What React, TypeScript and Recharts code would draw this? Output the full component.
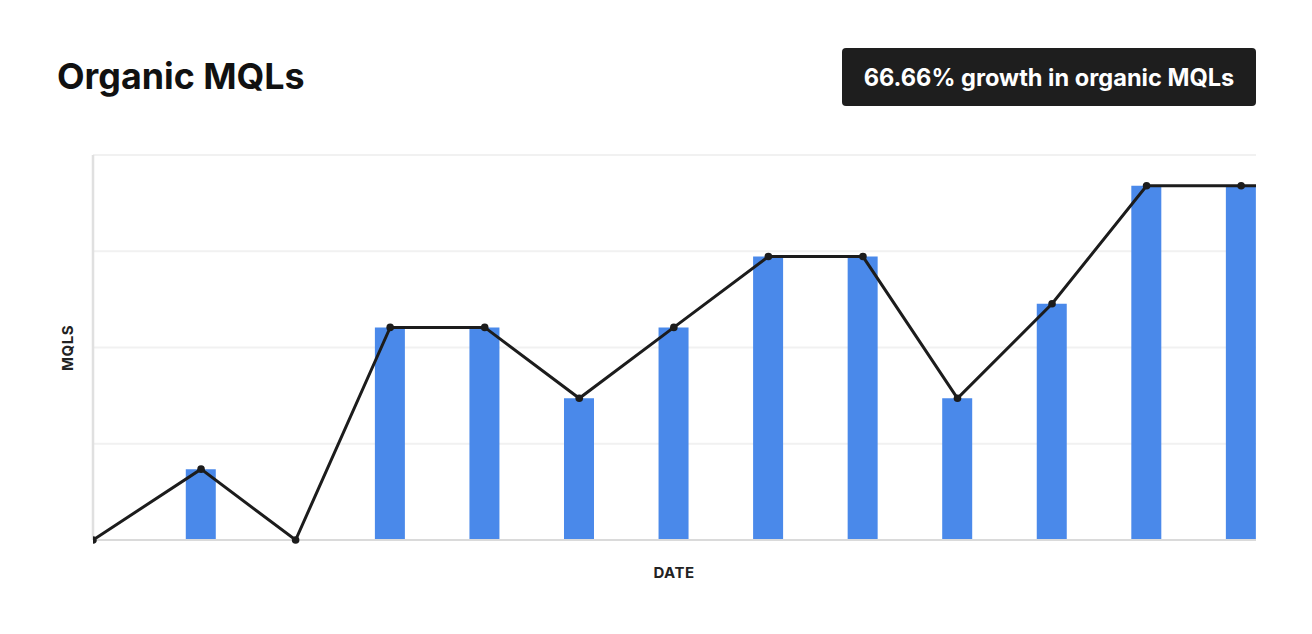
import {
  Bar,
  CartesianGrid,
  ComposedChart,
  Line,
  XAxis,
  YAxis,
} from "recharts";

// day offset of each data point (weekly buckets)
const days = [0, 8, 15, 22, 29, 36, 43, 50, 57, 64, 71, 78, 85, 92];
const mqls = [0, 3, 0, 9, 9, 6, 9, 12, 12, 6, 10, 15, 15, 15];
const yTicks = [0, 4.075, 8.15, 12.225, 16.3];

const data = days.map((day, i) => ({ day, mqls: mqls[i] }));

const FONT = "Inter, 'Noto Sans', sans-serif";

const NoTick = () => <g />;

export default function App() {
  return (
    <div
      style={{
        position: "relative",
        width: 1296,
        height: 618,
        fontFamily: FONT,
        background: "#fff",
      }}
    >
      <div
        style={{
          position: "absolute",
          left: 49,
          top: 51,
          fontSize: 35.8,
          lineHeight: 1,
          fontWeight: 700,
          color: "#111",
        }}
      >
        Organic MQLs
      </div>
      <div
        style={{
          position: "absolute",
          left: 834,
          top: 40,
          width: 414,
          height: 58,
          borderRadius: 4,
          background: "#1e1e1e",
          color: "#fff",
          fontSize: 23.6,
          fontWeight: 700,
          display: "flex",
          alignItems: "center",
          justifyContent: "center",
        }}
      >
        66.66% growth in organic MQLs
      </div>

      <div style={{ position: "absolute", left: 0, top: 0 }}>
        <ComposedChart
          width={1296}
          height={600}
          data={data}
          margin={{ top: 147, right: 48, bottom: 67, left: 84 }}
        >
          <CartesianGrid
            vertical={false}
            stroke="#f1f1f1"
            strokeWidth={2}
          />
          <XAxis
            dataKey="day"
            type="number"
            domain={[0, 86.1]}
            allowDataOverflow
            height={1}
            tick={NoTick}
            tickLine={false}
            axisLine={{ stroke: "#dadada", strokeWidth: 2 }}
          />
          <YAxis
            width={1}
            domain={[0, 16.3]}
            ticks={yTicks}
            interval={0}
            tick={NoTick}
            tickLine={false}
            axisLine={{ stroke: "#e0e0e0", strokeWidth: 2.5 }}
          />
          <Bar
            dataKey="mqls"
            fill="#4a89ea"
            barSize={30}
            isAnimationActive={false}
          />
          <Line
            dataKey="mqls"
            type="linear"
            stroke="#1c1c1c"
            strokeWidth={3}
            dot={{ r: 3.8, fill: "#1c1c1c", stroke: "none" }}
            activeDot={false}
            isAnimationActive={false}
          />
        </ComposedChart>
      </div>

      <div
        style={{
          position: "absolute",
          left: 58.7,
          top: 340,
          width: 0,
          height: 0,
        }}
      >
        <div
          style={{
            position: "absolute",
            transform: "translate(-50%, -50%) rotate(-90deg)",
            fontSize: 15,
            fontWeight: 700,
            letterSpacing: 0.5,
            color: "#222",
            whiteSpace: "nowrap",
          }}
        >
          MQLS
        </div>
      </div>
      <div
        style={{
          position: "absolute",
          left: 666,
          top: 564,
          width: 0,
          height: 0,
        }}
      >
        <div
          style={{
            position: "absolute",
            transform: "translate(-50%, -50%)",
            fontSize: 15,
            fontWeight: 700,
            letterSpacing: 0.5,
            color: "#222",
            whiteSpace: "nowrap",
          }}
        >
          DATE
        </div>
      </div>
    </div>
  );
}
